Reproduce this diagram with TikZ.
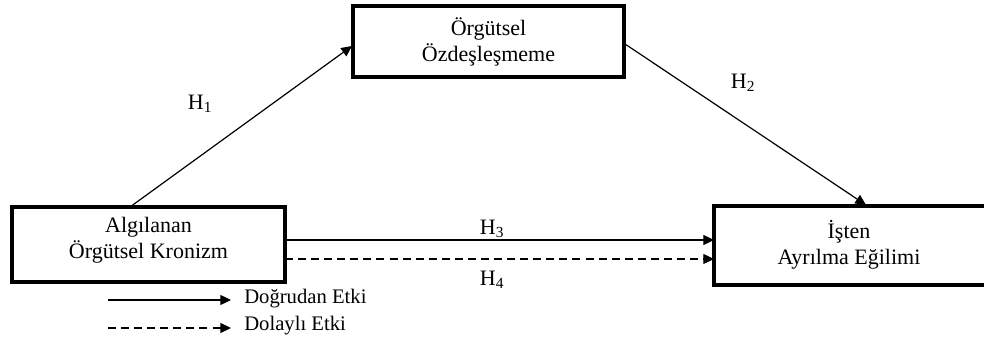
\documentclass[tikz,border=0pt]{standalone}
\usepackage{fontspec}
\setmainfont{Liberation Serif}
\usetikzlibrary{arrows.meta}
\begin{document}
\begin{tikzpicture}[x=0.75pt,y=-0.75pt,
  box/.style={draw=black, line width=3pt, fill=white, inner sep=0pt},
  boxtext/.style={align=center, font=\fontsize{16.5}{19.5}\selectfont},
  conn/.style={line width=0.9pt, -{Triangle[length=8pt,width=7.5pt]}},
  dashconn/.style={conn, dash pattern=on 6pt off 3.8pt},
  hlab/.style={font=\fontsize{16.5}{19.5}\selectfont, inner sep=0pt},
  legtext/.style={font=\fontsize{15.5}{18}\selectfont, anchor=west, inner sep=0pt}]
\useasboundingbox (0,0) rectangle (984,342);
% boxes
\draw[box] (12,207) rectangle (285,282);
\node[boxtext] (A) at (148.5,240.5) {Algılanan\\Örgütsel Kronizm};
\coordinate (Atop) at (130,207);
\coordinate (Ar1) at (285,240);
\coordinate (Ar2) at (285,259);
\draw[box] (353,6) rectangle (624,77);
\node[boxtext] (M) at (488.5,42) {Örgütsel\\Özdeşleşmeme};
\coordinate (Mleft) at (352,46);
\coordinate (Mright) at (625,44);
\draw[box] (714,206) rectangle (990,285);
\node[boxtext] (Y) at (849,245) {İşten\\Ayrılma Eğilimi};
\coordinate (Ytop) at (866,205);
\coordinate (Yl1) at (714,240);
\coordinate (Yl2) at (714,259);
% connectors
\draw[conn] (Atop) -- (Mleft);
\draw[conn] (Mright) -- (Ytop);
\draw[conn] (Ar1) -- (Yl1);
\draw[dashconn] (Ar2) -- (Yl2);
% labels
\node[hlab] (h1) at (200,104) {H\textsubscript{1}};
\node[hlab] (h2) at (743,83) {H\textsubscript{2}};
\node[hlab] (h3) at (492,229) {H\textsubscript{3}};
\node[hlab] (h4) at (492,280) {H\textsubscript{4}};
% legend
\coordinate (l1a) at (108,300);
\coordinate (l1b) at (231,300);
\coordinate (l2a) at (108,328);
\coordinate (l2b) at (231,328);
\draw[conn] (l1a) -- (l1b);
\draw[dashconn] (l2a) -- (l2b);
\node[legtext] (t1) at (244,299) {Doğrudan Etki};
\node[legtext] (t2) at (244,326) {Dolaylı Etki};
\end{tikzpicture}
\end{document}
